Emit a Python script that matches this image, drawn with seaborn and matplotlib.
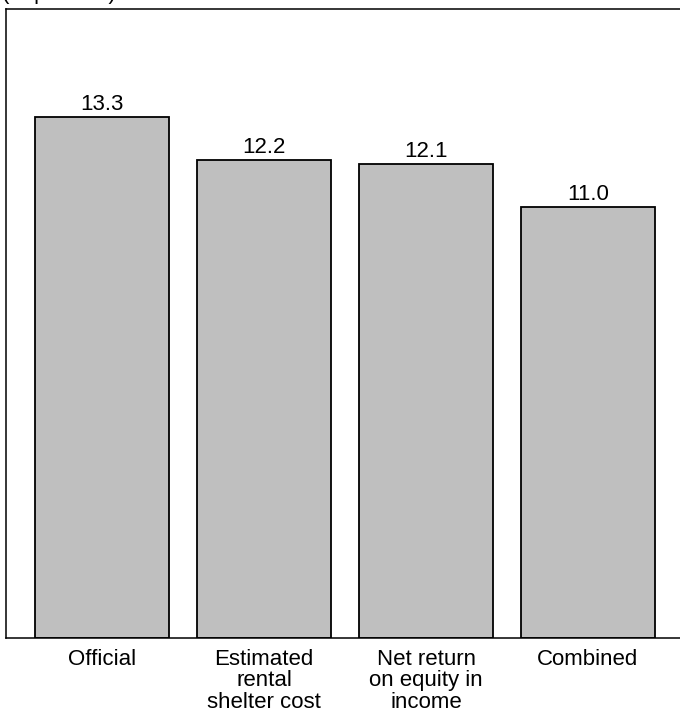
import matplotlib
matplotlib.use("Agg")
import matplotlib.pyplot as plt
import seaborn as sns
import pandas as pd

# Werte aus der Vorlage
categories = ["Official", "Estimated\nrental\nshelter cost", "Net return\non equity in\nincome", "Combined"]
values = [13.3, 12.2, 12.1, 11.0]
value_labels = ["13.3", "12.2", "12.1", "11.0"]

sns.set_style("white")
plt.rcParams["font.family"] = ["Liberation Sans", "DejaVu Sans"]
plt.rcParams["text.color"] = "black"
plt.rcParams["xtick.color"] = "black"

df = pd.DataFrame({"Kategorie": categories, "Wert": values})

fig = plt.figure(figsize=(6.8, 7.17), dpi=100)
ax = fig.add_axes([6 / 680, (717 - 638) / 717, (680 - 6) / 680, (638 - 9) / 717])

sns.barplot(data=df, x="Kategorie", y="Wert", color="#bfbfbf", edgecolor="black",
            linewidth=1.3, width=0.827, saturation=1, ax=ax)

# Beschriftung über den Balken
for i, (v, lab) in enumerate(zip(values, value_labels)):
    ax.text(i, v + 0.06, lab, ha="center", va="bottom", fontsize=16, color="black")

ax.set_xlim(-0.593, 3.568)
ax.set_ylim(0, 16.06)
ax.set_xlabel("")
ax.set_ylabel("")
ax.set_yticks([])
ax.tick_params(axis="x", length=0, pad=8, labelsize=16, labelcolor="black")
for lbl in ax.get_xticklabels():
    lbl.set_linespacing(1.02)
    lbl.set_verticalalignment("top")

for side in ["left", "top", "bottom"]:
    ax.spines[side].set_visible(True)
    ax.spines[side].set_color("black")
    ax.spines[side].set_linewidth(1.1)
ax.spines["right"].set_visible(False)

# Titel ist in der Vorlage oben angeschnitten
fig.text(0.003, 1 + 1 / 717, "(In percent)", ha="left", va="baseline", fontsize=16)

fig.savefig("out.png", dpi=100)
